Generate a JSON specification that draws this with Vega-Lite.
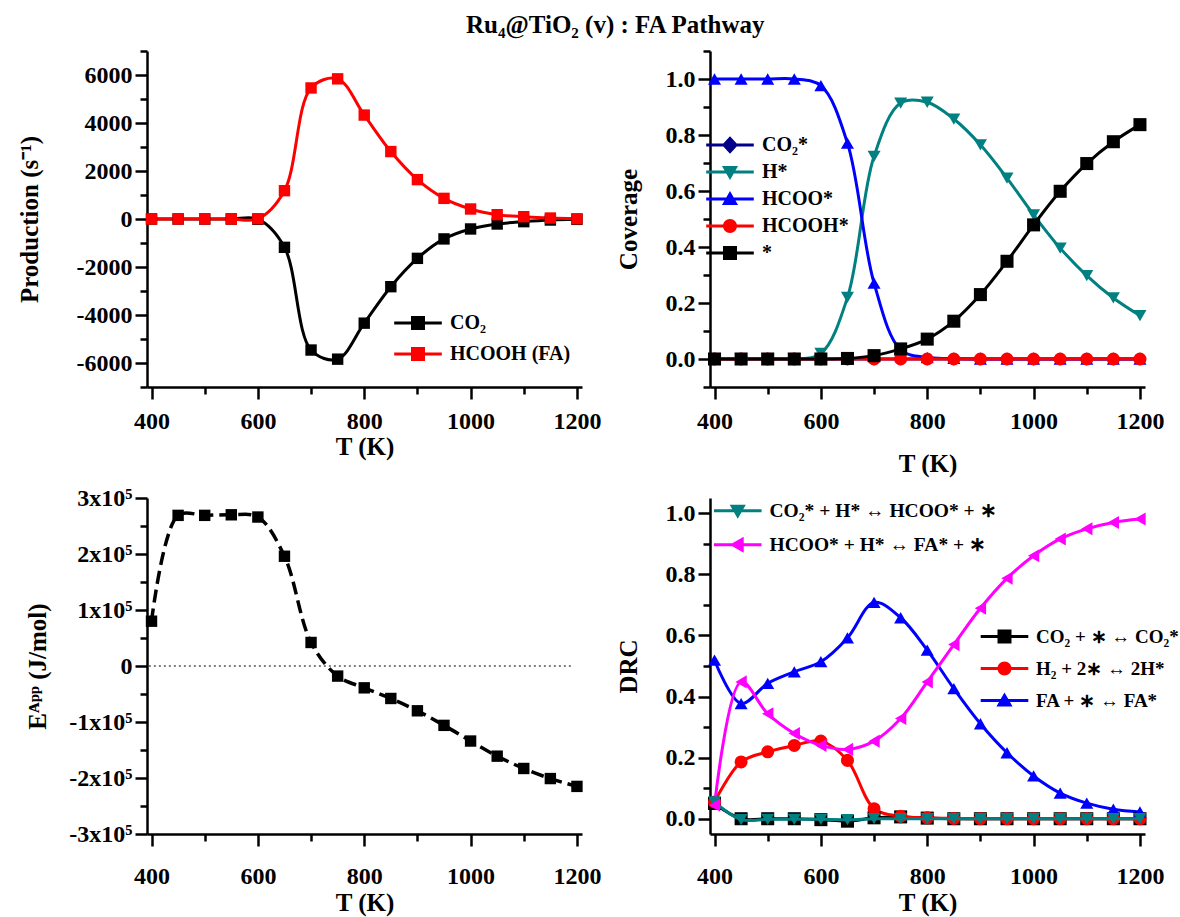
{
  "$schema": "https://vega.github.io/schema/vega-lite/v6.json",
  "background": "white",
  "padding": {"left": 17, "top": 13, "right": 2, "bottom": 2},
  "title": {"text": "Ru₄@TiO₂ (v) : FA Pathway", "font": "Liberation Serif", "fontSize": 25, "fontWeight": "bold", "color": "black", "anchor": "start", "frame": "group", "offset": 1, "dx": 319},
  "config": {
    "view": {"stroke": null},
    "font": "Liberation Serif",
    "axis": {"domainColor": "black", "domainWidth": 2.5, "tickColor": "black", "tickWidth": 2.5, "labelFont": "Liberation Serif", "labelFontWeight": "bold", "labelFontSize": 24, "labelColor": "black", "titleFont": "Liberation Serif", "titleFontWeight": "bold", "titleFontSize": 25, "titleColor": "black", "grid": false, "labelFlush": false, "labelOverlap": false, "labelBound": false},
    "legend": {"labelFont": "Liberation Serif", "labelFontWeight": "bold", "labelFontSize": 20, "labelColor": "black", "labelLimit": 600, "padding": 0, "symbolSize": 196, "symbolStrokeWidth": 0, "symbolOpacity": 1, "labelOffset": 22}
  },
  "datasets": {
    "prod": [
      {"T":400,"series":"CO₂","value":0},{"T":450,"series":"CO₂","value":0},{"T":500,"series":"CO₂","value":0},{"T":550,"series":"CO₂","value":0},{"T":600,"series":"CO₂","value":-10},{"T":650,"series":"CO₂","value":-1180},{"T":700,"series":"CO₂","value":-5460},{"T":750,"series":"CO₂","value":-5840},{"T":800,"series":"CO₂","value":-4340},{"T":850,"series":"CO₂","value":-2820},{"T":900,"series":"CO₂","value":-1640},{"T":950,"series":"CO₂","value":-830},{"T":1000,"series":"CO₂","value":-415},{"T":1050,"series":"CO₂","value":-208},{"T":1100,"series":"CO₂","value":-111},{"T":1150,"series":"CO₂","value":-42},{"T":1200,"series":"CO₂","value":-14},
      {"T":400,"series":"HCOOH (FA)","value":0},{"T":450,"series":"HCOOH (FA)","value":0},{"T":500,"series":"HCOOH (FA)","value":0},{"T":550,"series":"HCOOH (FA)","value":0},{"T":600,"series":"HCOOH (FA)","value":10},{"T":650,"series":"HCOOH (FA)","value":1180},{"T":700,"series":"HCOOH (FA)","value":5460},{"T":750,"series":"HCOOH (FA)","value":5840},{"T":800,"series":"HCOOH (FA)","value":4330},{"T":850,"series":"HCOOH (FA)","value":2810},{"T":900,"series":"HCOOH (FA)","value":1640},{"T":950,"series":"HCOOH (FA)","value":860},{"T":1000,"series":"HCOOH (FA)","value":417},{"T":1050,"series":"HCOOH (FA)","value":180},{"T":1100,"series":"HCOOH (FA)","value":97},{"T":1150,"series":"HCOOH (FA)","value":40},{"T":1200,"series":"HCOOH (FA)","value":8}
    ],
    "cov": [
      {"T":400,"series":"CO₂*","value":0},{"T":450,"series":"CO₂*","value":0},{"T":500,"series":"CO₂*","value":0},{"T":550,"series":"CO₂*","value":0},{"T":600,"series":"CO₂*","value":0},{"T":650,"series":"CO₂*","value":0},{"T":700,"series":"CO₂*","value":0},{"T":750,"series":"CO₂*","value":0},{"T":800,"series":"CO₂*","value":0},{"T":850,"series":"CO₂*","value":0},{"T":900,"series":"CO₂*","value":0},{"T":950,"series":"CO₂*","value":0},{"T":1000,"series":"CO₂*","value":0},{"T":1050,"series":"CO₂*","value":0},{"T":1100,"series":"CO₂*","value":0},{"T":1150,"series":"CO₂*","value":0},{"T":1200,"series":"CO₂*","value":0},
      {"T":400,"series":"H*","value":0},{"T":450,"series":"H*","value":0},{"T":500,"series":"H*","value":0},{"T":550,"series":"H*","value":0},{"T":600,"series":"H*","value":0.02},{"T":650,"series":"H*","value":0.22},{"T":700,"series":"H*","value":0.724},{"T":750,"series":"H*","value":0.914},{"T":800,"series":"H*","value":0.917},{"T":850,"series":"H*","value":0.857},{"T":900,"series":"H*","value":0.765},{"T":950,"series":"H*","value":0.646},{"T":1000,"series":"H*","value":0.515},{"T":1050,"series":"H*","value":0.396},{"T":1100,"series":"H*","value":0.298},{"T":1150,"series":"H*","value":0.218},{"T":1200,"series":"H*","value":0.155},
      {"T":400,"series":"HCOO*","value":1},{"T":450,"series":"HCOO*","value":1},{"T":500,"series":"HCOO*","value":1},{"T":550,"series":"HCOO*","value":1},{"T":600,"series":"HCOO*","value":0.976},{"T":650,"series":"HCOO*","value":0.771},{"T":700,"series":"HCOO*","value":0.271},{"T":750,"series":"HCOO*","value":0.033},{"T":800,"series":"HCOO*","value":0.005},{"T":850,"series":"HCOO*","value":0.002},{"T":900,"series":"HCOO*","value":0},{"T":950,"series":"HCOO*","value":0},{"T":1000,"series":"HCOO*","value":0},{"T":1050,"series":"HCOO*","value":0},{"T":1100,"series":"HCOO*","value":0},{"T":1150,"series":"HCOO*","value":0},{"T":1200,"series":"HCOO*","value":0},
      {"T":400,"series":"HCOOH*","value":0},{"T":450,"series":"HCOOH*","value":0},{"T":500,"series":"HCOOH*","value":0},{"T":550,"series":"HCOOH*","value":0},{"T":600,"series":"HCOOH*","value":0},{"T":650,"series":"HCOOH*","value":0},{"T":700,"series":"HCOOH*","value":0},{"T":750,"series":"HCOOH*","value":0},{"T":800,"series":"HCOOH*","value":0},{"T":850,"series":"HCOOH*","value":0},{"T":900,"series":"HCOOH*","value":0},{"T":950,"series":"HCOOH*","value":0},{"T":1000,"series":"HCOOH*","value":0},{"T":1050,"series":"HCOOH*","value":0},{"T":1100,"series":"HCOOH*","value":0},{"T":1150,"series":"HCOOH*","value":0},{"T":1200,"series":"HCOOH*","value":0},
      {"T":400,"series":"*","value":0},{"T":450,"series":"*","value":0},{"T":500,"series":"*","value":0},{"T":550,"series":"*","value":0},{"T":600,"series":"*","value":0},{"T":650,"series":"*","value":0.002},{"T":700,"series":"*","value":0.012},{"T":750,"series":"*","value":0.036},{"T":800,"series":"*","value":0.071},{"T":850,"series":"*","value":0.135},{"T":900,"series":"*","value":0.23},{"T":950,"series":"*","value":0.349},{"T":1000,"series":"*","value":0.479},{"T":1050,"series":"*","value":0.599},{"T":1100,"series":"*","value":0.698},{"T":1150,"series":"*","value":0.776},{"T":1200,"series":"*","value":0.837}
    ],
    "eapp": [
      {"T":400,"value":80000},{"T":450,"value":269000},{"T":500,"value":269000},{"T":550,"value":270000},{"T":600,"value":266000},{"T":650,"value":196000},{"T":700,"value":42000},{"T":750,"value":-18000},{"T":800,"value":-39000},{"T":850,"value":-58000},{"T":900,"value":-80000},{"T":950,"value":-106000},{"T":1000,"value":-134000},{"T":1050,"value":-161000},{"T":1100,"value":-183000},{"T":1150,"value":-201000},{"T":1200,"value":-215000}
    ],
    "zeroline": [{"T":395,"value":0},{"T":1190,"value":0}],
    "drcB": [
      {"T":400,"series":"CO₂ + ∗ ↔ CO₂*","value":0.05},{"T":450,"series":"CO₂ + ∗ ↔ CO₂*","value":0},{"T":500,"series":"CO₂ + ∗ ↔ CO₂*","value":0},{"T":550,"series":"CO₂ + ∗ ↔ CO₂*","value":0},{"T":600,"series":"CO₂ + ∗ ↔ CO₂*","value":-0.003},{"T":650,"series":"CO₂ + ∗ ↔ CO₂*","value":-0.008},{"T":700,"series":"CO₂ + ∗ ↔ CO₂*","value":0.003},{"T":750,"series":"CO₂ + ∗ ↔ CO₂*","value":0.006},{"T":800,"series":"CO₂ + ∗ ↔ CO₂*","value":0.002},{"T":850,"series":"CO₂ + ∗ ↔ CO₂*","value":0},{"T":900,"series":"CO₂ + ∗ ↔ CO₂*","value":0},{"T":950,"series":"CO₂ + ∗ ↔ CO₂*","value":0},{"T":1000,"series":"CO₂ + ∗ ↔ CO₂*","value":0},{"T":1050,"series":"CO₂ + ∗ ↔ CO₂*","value":0},{"T":1100,"series":"CO₂ + ∗ ↔ CO₂*","value":0},{"T":1150,"series":"CO₂ + ∗ ↔ CO₂*","value":0},{"T":1200,"series":"CO₂ + ∗ ↔ CO₂*","value":0},
      {"T":400,"series":"H₂ + 2∗ ↔ 2H*","value":0.055},{"T":450,"series":"H₂ + 2∗ ↔ 2H*","value":0.186},{"T":500,"series":"H₂ + 2∗ ↔ 2H*","value":0.219},{"T":550,"series":"H₂ + 2∗ ↔ 2H*","value":0.24},{"T":600,"series":"H₂ + 2∗ ↔ 2H*","value":0.254},{"T":650,"series":"H₂ + 2∗ ↔ 2H*","value":0.191},{"T":700,"series":"H₂ + 2∗ ↔ 2H*","value":0.033},{"T":750,"series":"H₂ + 2∗ ↔ 2H*","value":0.008},{"T":800,"series":"H₂ + 2∗ ↔ 2H*","value":0.003},{"T":850,"series":"H₂ + 2∗ ↔ 2H*","value":0.001},{"T":900,"series":"H₂ + 2∗ ↔ 2H*","value":0},{"T":950,"series":"H₂ + 2∗ ↔ 2H*","value":0},{"T":1000,"series":"H₂ + 2∗ ↔ 2H*","value":0},{"T":1050,"series":"H₂ + 2∗ ↔ 2H*","value":0},{"T":1100,"series":"H₂ + 2∗ ↔ 2H*","value":0},{"T":1150,"series":"H₂ + 2∗ ↔ 2H*","value":0},{"T":1200,"series":"H₂ + 2∗ ↔ 2H*","value":0},
      {"T":400,"series":"FA + ∗ ↔ FA*","value":0.519},{"T":450,"series":"FA + ∗ ↔ FA*","value":0.377},{"T":500,"series":"FA + ∗ ↔ FA*","value":0.443},{"T":550,"series":"FA + ∗ ↔ FA*","value":0.481},{"T":600,"series":"FA + ∗ ↔ FA*","value":0.514},{"T":650,"series":"FA + ∗ ↔ FA*","value":0.592},{"T":700,"series":"FA + ∗ ↔ FA*","value":0.708},{"T":750,"series":"FA + ∗ ↔ FA*","value":0.658},{"T":800,"series":"FA + ∗ ↔ FA*","value":0.552},{"T":850,"series":"FA + ∗ ↔ FA*","value":0.426},{"T":900,"series":"FA + ∗ ↔ FA*","value":0.311},{"T":950,"series":"FA + ∗ ↔ FA*","value":0.216},{"T":1000,"series":"FA + ∗ ↔ FA*","value":0.14},{"T":1050,"series":"FA + ∗ ↔ FA*","value":0.084},{"T":1100,"series":"FA + ∗ ↔ FA*","value":0.051},{"T":1150,"series":"FA + ∗ ↔ FA*","value":0.031},{"T":1200,"series":"FA + ∗ ↔ FA*","value":0.022}
    ],
    "drcA": [
      {"T":400,"series":"CO₂* + H* ↔ HCOO* + ∗","value":0.055},{"T":450,"series":"CO₂* + H* ↔ HCOO* + ∗","value":-0.003},{"T":500,"series":"CO₂* + H* ↔ HCOO* + ∗","value":-0.002},{"T":550,"series":"CO₂* + H* ↔ HCOO* + ∗","value":-0.002},{"T":600,"series":"CO₂* + H* ↔ HCOO* + ∗","value":-0.002},{"T":650,"series":"CO₂* + H* ↔ HCOO* + ∗","value":-0.003},{"T":700,"series":"CO₂* + H* ↔ HCOO* + ∗","value":0},{"T":750,"series":"CO₂* + H* ↔ HCOO* + ∗","value":0},{"T":800,"series":"CO₂* + H* ↔ HCOO* + ∗","value":0},{"T":850,"series":"CO₂* + H* ↔ HCOO* + ∗","value":0},{"T":900,"series":"CO₂* + H* ↔ HCOO* + ∗","value":0},{"T":950,"series":"CO₂* + H* ↔ HCOO* + ∗","value":0},{"T":1000,"series":"CO₂* + H* ↔ HCOO* + ∗","value":0},{"T":1050,"series":"CO₂* + H* ↔ HCOO* + ∗","value":0},{"T":1100,"series":"CO₂* + H* ↔ HCOO* + ∗","value":0},{"T":1150,"series":"CO₂* + H* ↔ HCOO* + ∗","value":0},{"T":1200,"series":"CO₂* + H* ↔ HCOO* + ∗","value":0},
      {"T":400,"series":"HCOO* + H* ↔ FA* + ∗","value":0.044},{"T":450,"series":"HCOO* + H* ↔ FA* + ∗","value":0.448},{"T":500,"series":"HCOO* + H* ↔ FA* + ∗","value":0.344},{"T":550,"series":"HCOO* + H* ↔ FA* + ∗","value":0.279},{"T":600,"series":"HCOO* + H* ↔ FA* + ∗","value":0.24},{"T":650,"series":"HCOO* + H* ↔ FA* + ∗","value":0.227},{"T":700,"series":"HCOO* + H* ↔ FA* + ∗","value":0.254},{"T":750,"series":"HCOO* + H* ↔ FA* + ∗","value":0.328},{"T":800,"series":"HCOO* + H* ↔ FA* + ∗","value":0.448},{"T":850,"series":"HCOO* + H* ↔ FA* + ∗","value":0.57},{"T":900,"series":"HCOO* + H* ↔ FA* + ∗","value":0.689},{"T":950,"series":"HCOO* + H* ↔ FA* + ∗","value":0.787},{"T":1000,"series":"HCOO* + H* ↔ FA* + ∗","value":0.861},{"T":1050,"series":"HCOO* + H* ↔ FA* + ∗","value":0.916},{"T":1100,"series":"HCOO* + H* ↔ FA* + ∗","value":0.949},{"T":1150,"series":"HCOO* + H* ↔ FA* + ∗","value":0.97},{"T":1200,"series":"HCOO* + H* ↔ FA* + ∗","value":0.981}
    ]
  },
  "columns": 2,
  "spacing": {"row": 111, "column": 128},
  "bounds": "flush",
  "resolve": {"scale": {"color": "independent", "shape": "independent", "stroke": "independent"}},
  "concat": [
    {
      "width": 435, "height": 336,
      "data": {"name": "prod"},
      "encoding": {
        "x": {"field": "T", "type": "quantitative", "scale": {"domain": [391.5, 1209.5], "nice": false, "zero": false},
          "axis": {"title": "T (K)", "values": [400,500,600,700,800,900,1000,1100,1200], "format": "d", "labelExpr": "datum.value % 200 === 0 ? datum.label : ''", "tickSize": {"condition": {"test": "datum.value % 200 === 0", "value": 12}, "value": 7}, "labelPadding": 10, "titlePadding": 1}},
        "y": {"field": "value", "type": "quantitative", "scale": {"domain": [-7000, 7000], "nice": false, "zero": false},
          "axis": {"title": "Production (s⁻¹)", "values": [-7000,-6000,-5000,-4000,-3000,-2000,-1000,0,1000,2000,3000,4000,5000,6000,7000], "labelExpr": "datum.value % 2000 === 0 ? '' + datum.value : ''", "tickSize": {"condition": {"test": "datum.value % 2000 === 0", "value": 12}, "value": 7}, "labelPadding": 3, "titlePadding": 34}}
      },
      "resolve": {"scale": {"color": "independent", "shape": "independent"}},
      "layer": [
        {"mark": {"type": "line", "interpolate": "catmull-rom", "strokeWidth": 3},
         "encoding": {"stroke": {"field": "series", "type": "nominal", "scale": {"domain": ["CO₂", "HCOOH (FA)"], "range": ["#000000", "#FF0000"]}, "legend": null}}},
        {"mark": {"type": "point", "shape": "square", "filled": true, "opacity": 1, "size": 130},
         "encoding": {"color": {"field": "series", "type": "nominal", "scale": {"domain": ["CO₂", "HCOOH (FA)"], "range": ["#000000", "#FF0000"]}, "legend": null}}},
        {"mark": {"type": "point", "filled": true, "opacity": 0, "size": 196},
         "encoding": {
           "color": {"field": "series", "type": "nominal", "scale": {"domain": ["CO₂", "HCOOH (FA)"], "range": ["#000000", "#FF0000"]},
             "legend": {"title": null, "orient": "none", "legendX": 261, "legendY": 262, "rowPadding": 11, "labelLimit": 600, "symbolOpacity": 1, "symbolSize": 196}},
           "shape": {"field": "series", "type": "nominal", "scale": {"domain": ["CO₂", "HCOOH (FA)"], "range": ["M-3.4,-0.22H3.4V0.22H-3.4Z M-1,-1H1V1H-1Z", "M-3.4,-0.22H3.4V0.22H-3.4Z M-1,-1H1V1H-1Z"]},
             "legend": {"title": null, "orient": "none", "legendX": 261, "legendY": 262, "rowPadding": 11, "labelLimit": 600, "symbolOpacity": 1, "symbolSize": 196}}
         }}
      ]
    },
    {
      "width": 435, "height": 336,
      "data": {"name": "cov"},
      "encoding": {
        "x": {"field": "T", "type": "quantitative", "scale": {"domain": [391.5, 1209.5], "nice": false, "zero": false},
          "axis": {"title": "T (K)", "values": [400,500,600,700,800,900,1000,1100,1200], "format": "d", "labelExpr": "datum.value % 200 === 0 ? datum.label : ''", "tickSize": {"condition": {"test": "datum.value % 200 === 0", "value": 12}, "value": 7}, "labelPadding": 10, "titlePadding": 18}},
        "y": {"field": "value", "type": "quantitative", "scale": {"domain": [-0.1, 1.1], "nice": false, "zero": false},
          "axis": {"title": "Coverage", "values": [-0.1,0,0.1,0.2,0.3,0.4,0.5,0.6,0.7,0.8,0.9,1.0,1.1], "labelExpr": "(abs(round(datum.value * 10)) % 2 === 0 && datum.value > -0.05 && datum.value < 1.05) ? format(datum.value, '.1f') : ''", "tickSize": {"condition": {"test": "abs(round(datum.value * 10)) % 2 === 0", "value": 12}, "value": 7}, "labelPadding": 3, "titlePadding": 24}}
      },
      "resolve": {"scale": {"color": "independent", "shape": "independent"}},
      "layer": [
        {"mark": {"type": "line", "interpolate": "catmull-rom", "strokeWidth": 3},
         "encoding": {"stroke": {"field": "series", "type": "nominal", "scale": {"domain": ["CO₂*", "H*", "HCOO*", "HCOOH*", "*"], "range": ["#00008B", "#008080", "#0000FF", "#FF0000", "#000000"]}, "legend": null}}},
        {"mark": {"type": "point", "filled": true, "opacity": 1, "size": 170},
         "encoding": {
           "shape": {"field": "series", "type": "nominal", "scale": {"domain": ["CO₂*", "H*", "HCOO*", "HCOOH*", "*"], "range": ["diamond", "triangle-down", "triangle-up", "circle", "square"]}, "legend": null},
           "color": {"field": "series", "type": "nominal", "scale": {"domain": ["CO₂*", "H*", "HCOO*", "HCOOH*", "*"], "range": ["#00008B", "#008080", "#0000FF", "#FF0000", "#000000"]}, "legend": null}
         }},
        {"mark": {"type": "point", "filled": true, "opacity": 0, "size": 196},
         "encoding": {
           "color": {"field": "series", "type": "nominal", "scale": {"domain": ["CO₂*", "H*", "HCOO*", "HCOOH*", "*"], "range": ["#00008B", "#008080", "#0000FF", "#FF0000", "#000000"]},
             "legend": {"title": null, "orient": "none", "legendX": 10, "legendY": 84, "rowPadding": 7, "labelLimit": 600, "symbolOpacity": 1, "symbolSize": 196}},
           "shape": {"field": "series", "type": "nominal", "scale": {"domain": ["CO₂*", "H*", "HCOO*", "HCOOH*", "*"], "range": ["M-3.4,-0.22H3.4V0.22H-3.4Z M0,-1.25L1.15,0L0,1.25L-1.15,0Z", "M-3.4,-0.22H3.4V0.22H-3.4Z M0,1.15L-1.15,-0.85H1.15Z", "M-3.4,-0.22H3.4V0.22H-3.4Z M0,-1.15L1.15,0.85H-1.15Z", "M-3.4,-0.22H3.4V0.22H-3.4Z M1,0A1,1,0,1,1,-1,0A1,1,0,1,1,1,0Z", "M-3.4,-0.22H3.4V0.22H-3.4Z M-1,-1H1V1H-1Z"]},
             "legend": {"title": null, "orient": "none", "legendX": 10, "legendY": 84, "rowPadding": 7, "labelLimit": 600, "symbolOpacity": 1, "symbolSize": 196}}
         }}
      ]
    },
    {
      "width": 435, "height": 336,
      "encoding": {
        "x": {"field": "T", "type": "quantitative", "scale": {"domain": [391.5, 1209.5], "nice": false, "zero": false},
          "axis": {"title": "T (K)", "values": [400,500,600,700,800,900,1000,1100,1200], "format": "d", "labelExpr": "datum.value % 200 === 0 ? datum.label : ''", "tickSize": {"condition": {"test": "datum.value % 200 === 0", "value": 12}, "value": 7}, "labelPadding": 18, "titlePadding": 2}},
        "y": {"field": "value", "type": "quantitative", "scale": {"domain": [-300000, 300000], "nice": false, "zero": false},
          "axis": {"title": "Eᴬᵖᵖ (J/mol)", "values": [-300000,-250000,-200000,-150000,-100000,-50000,0,50000,100000,150000,200000,250000,300000], "labelExpr": "datum.value === 0 ? '0' : (datum.value % 100000 === 0 ? (datum.value / 100000) + 'x10⁵' : '')", "tickSize": {"condition": {"test": "datum.value % 100000 === 0", "value": 12}, "value": 7}, "labelPadding": 3, "titlePadding": 18}}
      },
      "layer": [
        {"data": {"name": "zeroline"}, "mark": {"type": "line", "strokeWidth": 1, "strokeDash": [2, 3], "color": "black"}, "encoding": {}},
        {"data": {"name": "eapp"}, "mark": {"type": "line", "interpolate": "catmull-rom", "strokeWidth": 3.5, "strokeDash": [13, 6], "color": "black"}, "encoding": {}},
        {"data": {"name": "eapp"}, "mark": {"type": "point", "shape": "square", "filled": true, "opacity": 1, "size": 130, "color": "black"}, "encoding": {}}
      ]
    },
    {
      "width": 435, "height": 336,
      "encoding": {
        "x": {"field": "T", "type": "quantitative", "scale": {"domain": [391.5, 1209.5], "nice": false, "zero": false},
          "axis": {"title": "T (K)", "values": [400,500,600,700,800,900,1000,1100,1200], "format": "d", "labelExpr": "datum.value % 200 === 0 ? datum.label : ''", "tickSize": {"condition": {"test": "datum.value % 200 === 0", "value": 12}, "value": 7}, "labelPadding": 18, "titlePadding": 2}},
        "y": {"field": "value", "type": "quantitative", "scale": {"domain": [-0.05, 1.05], "nice": false, "zero": false},
          "axis": {"title": "DRC", "values": [0,0.1,0.2,0.3,0.4,0.5,0.6,0.7,0.8,0.9,1.0], "labelExpr": "round(datum.value * 10) % 2 === 0 ? format(datum.value, '.1f') : ''", "tickSize": {"condition": {"test": "round(datum.value * 10) % 2 === 0", "value": 12}, "value": 7}, "labelPadding": 3, "titlePadding": 24}}
      },
      "resolve": {"scale": {"color": "independent", "shape": "independent", "stroke": "independent"}},
      "layer": [
        {
          "data": {"name": "drcB"},
          "resolve": {"scale": {"color": "independent", "shape": "independent"}},
          "layer": [
            {"mark": {"type": "line", "interpolate": "catmull-rom", "strokeWidth": 3},
             "encoding": {"stroke": {"field": "series", "type": "nominal", "scale": {"domain": ["CO₂ + ∗ ↔ CO₂*", "H₂ + 2∗ ↔ 2H*", "FA + ∗ ↔ FA*"], "range": ["#000000", "#FF0000", "#0000FF"]}, "legend": null}}},
            {"mark": {"type": "point", "filled": true, "opacity": 1, "size": 170},
             "encoding": {
               "shape": {"field": "series", "type": "nominal", "scale": {"domain": ["CO₂ + ∗ ↔ CO₂*", "H₂ + 2∗ ↔ 2H*", "FA + ∗ ↔ FA*"], "range": ["square", "circle", "triangle-up"]}, "legend": null},
               "color": {"field": "series", "type": "nominal", "scale": {"domain": ["CO₂ + ∗ ↔ CO₂*", "H₂ + 2∗ ↔ 2H*", "FA + ∗ ↔ FA*"], "range": ["#000000", "#FF0000", "#0000FF"]}, "legend": null}
             }},
            {"mark": {"type": "point", "filled": true, "opacity": 0, "size": 196},
             "encoding": {
               "color": {"field": "series", "type": "nominal", "scale": {"domain": ["CO₂ + ∗ ↔ CO₂*", "H₂ + 2∗ ↔ 2H*", "FA + ∗ ↔ FA*"], "range": ["#000000", "#FF0000", "#0000FF"]},
                 "legend": {"title": null, "orient": "none", "legendX": 285, "legendY": 129, "rowPadding": 12, "labelLimit": 600, "labelFontSize": 19, "symbolOpacity": 1, "symbolSize": 196}},
               "shape": {"field": "series", "type": "nominal", "scale": {"domain": ["CO₂ + ∗ ↔ CO₂*", "H₂ + 2∗ ↔ 2H*", "FA + ∗ ↔ FA*"], "range": ["M-3.4,-0.22H3.4V0.22H-3.4Z M-1,-1H1V1H-1Z", "M-3.4,-0.22H3.4V0.22H-3.4Z M1,0A1,1,0,1,1,-1,0A1,1,0,1,1,1,0Z", "M-3.4,-0.22H3.4V0.22H-3.4Z M0,-1.15L1.15,0.85H-1.15Z"]},
                 "legend": {"title": null, "orient": "none", "legendX": 285, "legendY": 129, "rowPadding": 12, "labelLimit": 600, "labelFontSize": 19, "symbolOpacity": 1, "symbolSize": 196}}
             }}
          ]
        },
        {
          "data": {"name": "drcA"},
          "resolve": {"scale": {"color": "independent", "shape": "independent"}},
          "layer": [
            {"mark": {"type": "line", "interpolate": "catmull-rom", "strokeWidth": 3},
             "encoding": {"stroke": {"field": "series", "type": "nominal", "scale": {"domain": ["CO₂* + H* ↔ HCOO* + ∗", "HCOO* + H* ↔ FA* + ∗"], "range": ["#008080", "#FF00FF"]}, "legend": null}}},
            {"mark": {"type": "point", "filled": true, "opacity": 1, "size": 170},
             "encoding": {
               "shape": {"field": "series", "type": "nominal", "scale": {"domain": ["CO₂* + H* ↔ HCOO* + ∗", "HCOO* + H* ↔ FA* + ∗"], "range": ["triangle-down", "triangle-left"]}, "legend": null},
               "color": {"field": "series", "type": "nominal", "scale": {"domain": ["CO₂* + H* ↔ HCOO* + ∗", "HCOO* + H* ↔ FA* + ∗"], "range": ["#008080", "#FF00FF"]}, "legend": null}
             }},
            {"mark": {"type": "point", "filled": true, "opacity": 0, "size": 196},
             "encoding": {
               "color": {"field": "series", "type": "nominal", "scale": {"domain": ["CO₂* + H* ↔ HCOO* + ∗", "HCOO* + H* ↔ FA* + ∗"], "range": ["#008080", "#FF00FF"]},
                 "legend": {"title": null, "orient": "none", "legendX": 18, "legendY": 3, "rowPadding": 13, "labelLimit": 600, "labelFontSize": 19.5, "symbolOpacity": 1, "symbolSize": 196}},
               "shape": {"field": "series", "type": "nominal", "scale": {"domain": ["CO₂* + H* ↔ HCOO* + ∗", "HCOO* + H* ↔ FA* + ∗"], "range": ["M-3.4,-0.22H3.4V0.22H-3.4Z M0,1.15L-1.15,-0.85H1.15Z", "M-3.4,-0.22H3.4V0.22H-3.4Z M-1.15,0L0.85,-1.15V1.15Z"]},
                 "legend": {"title": null, "orient": "none", "legendX": 18, "legendY": 3, "rowPadding": 13, "labelLimit": 600, "labelFontSize": 19.5, "symbolOpacity": 1, "symbolSize": 196}}
             }}
          ]
        }
      ]
    }
  ]
}
